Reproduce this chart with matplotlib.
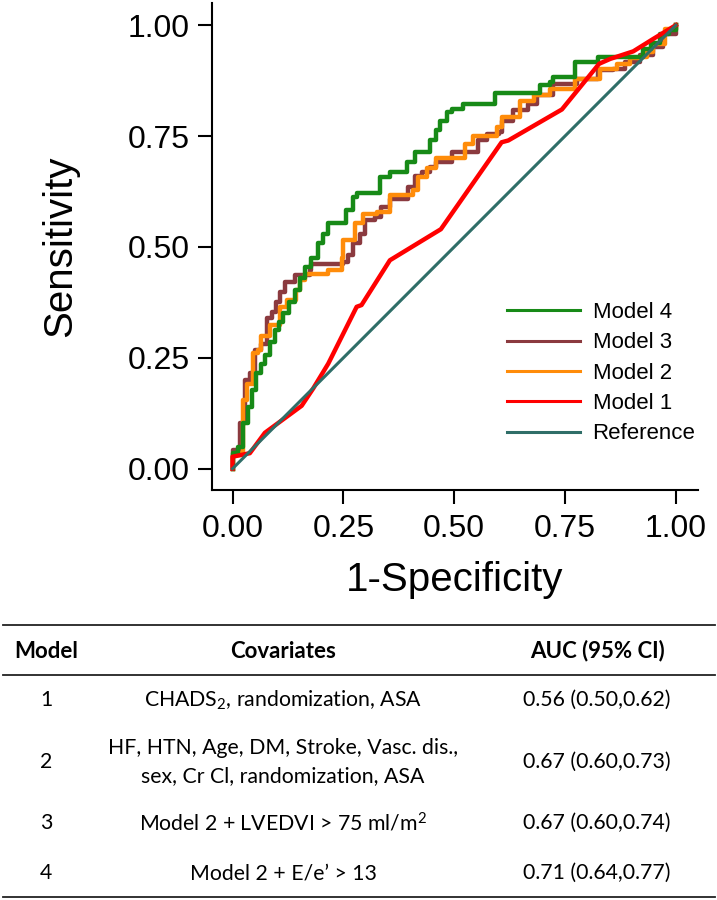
import matplotlib
matplotlib.use('Agg')
import matplotlib.pyplot as plt
from matplotlib.lines import Line2D

plt.rcParams['font.family'] = ['Liberation Sans', 'DejaVu Sans']
plt.rcParams['mathtext.default'] = 'regular'

# --- ROC curve data ---
# Model 1: piecewise linear
m1_x = [0, 0, 0.039, 0.073, 0.107, 0.156, 0.182, 0.216, 0.28, 0.291, 0.355, 0.47,
        0.607, 0.622, 0.743, 0.827, 0.852, 0.904, 0.949, 1.0]
m1_y = [0, 0.027, 0.035, 0.081, 0.106, 0.142, 0.181, 0.237, 0.365, 0.369, 0.47, 0.54,
        0.736, 0.740, 0.81, 0.913, 0.924, 0.941, 0.969, 1.0]

# Model 2: step curve (x where the step happens, y after the step)
m2_x = [0, 0, 0.016, 0.024, 0.032, 0.047, 0.058, 0.065, 0.084, 0.107, 0.122, 0.144,
        0.152, 0.163, 0.216, 0.246, 0.25, 0.276, 0.295, 0.325, 0.355, 0.408, 0.419,
        0.438, 0.46, 0.524, 0.543, 0.596, 0.607, 0.648, 0.679, 0.716, 0.773, 0.829,
        0.867, 0.897, 0.919, 0.934, 0.949, 0.976, 1.0]
m2_y = [0, 0.031, 0.035, 0.155, 0.192, 0.26, 0.267, 0.30, 0.324, 0.365, 0.38, 0.402,
        0.425, 0.44, 0.448, 0.474, 0.515, 0.553, 0.575, 0.579, 0.616, 0.628, 0.658,
        0.677, 0.70, 0.733, 0.75, 0.77, 0.793, 0.83, 0.842, 0.857, 0.879, 0.902,
        0.912, 0.925, 0.928, 0.939, 0.958, 0.992, 1.0]

# Model 3
m3_x = [0, 0, 0.016, 0.028, 0.039, 0.05, 0.065, 0.077, 0.088, 0.099, 0.107, 0.118,
        0.141, 0.174, 0.178, 0.25, 0.261, 0.272, 0.287, 0.299, 0.321, 0.336, 0.355,
        0.396, 0.411, 0.427, 0.445, 0.46, 0.494, 0.554, 0.573, 0.6, 0.607, 0.633,
        0.667, 0.686, 0.724, 0.776, 0.825, 0.859, 0.886, 0.919, 0.949, 0.972, 1.0]
m3_y = [0, 0.042, 0.102, 0.2, 0.215, 0.267, 0.282, 0.339, 0.354, 0.376, 0.399, 0.421,
        0.436, 0.448, 0.461, 0.466, 0.481, 0.508, 0.53, 0.56, 0.568, 0.59, 0.609,
        0.635, 0.661, 0.669, 0.68, 0.691, 0.714, 0.74, 0.755, 0.759, 0.785, 0.808,
        0.823, 0.842, 0.868, 0.879, 0.898, 0.902, 0.917, 0.932, 0.95, 0.981, 1.0]

# Model 4
m4_x = [0, 0, 0.013, 0.024, 0.035, 0.043, 0.054, 0.064, 0.073, 0.085, 0.095, 0.105,
        0.114, 0.128, 0.141, 0.152, 0.163, 0.178, 0.193, 0.205, 0.216, 0.257, 0.272,
        0.28, 0.332, 0.355, 0.393, 0.411, 0.445, 0.46, 0.468, 0.483, 0.494, 0.52,
        0.592, 0.694, 0.716, 0.724, 0.773, 0.825, 0.927, 0.945, 0.965, 0.985, 1.0]
m4_y = [0, 0.035, 0.05, 0.102, 0.14, 0.177, 0.215, 0.235, 0.256, 0.285, 0.312, 0.33,
        0.35, 0.375, 0.402, 0.43, 0.455, 0.474, 0.508, 0.53, 0.553, 0.583, 0.613,
        0.622, 0.658, 0.669, 0.691, 0.714, 0.74, 0.763, 0.785, 0.804, 0.812, 0.823,
        0.846, 0.864, 0.872, 0.884, 0.917, 0.928, 0.947, 0.96, 0.981, 0.99, 1.0]

ref_x = [0, 1]
ref_y = [0, 1]

# --- table data ---
tbl_header = ['Model', 'Covariates', 'AUC (95% CI)']
tbl_models = ['1', '2', '3', '4']
tbl_covariates = ['CHADS$_2$, randomization, ASA',
                  'HF, HTN, Age, DM, Stroke, Vasc. dis.,\nsex, Cr Cl, randomization, ASA',
                  'Model 2 + LVEDVI > 75 ml/m$^2$',
                  'Model 2 + E/e\u2019 > 13']
tbl_auc = ['0.56 (0.50,0.62)', '0.67 (0.60,0.73)', '0.67 (0.60,0.74)', '0.71 (0.64,0.77)']

W, H = 717, 900
fig = plt.figure(figsize=(W / 100, H / 100), dpi=100)


def fx(px):
    return px / W


def fy(py):
    return 1 - py / H


ax = fig.add_axes([fx(211.7), fy(490), fx(698) - fx(211.7), fy(3) - fy(490)])

c_ref = '#2f6e68'
ax.plot(m3_x, m3_y, drawstyle='steps-post', color='#8b3a3f', lw=3.2, label='Model 3')
ax.plot(m2_x, m2_y, drawstyle='steps-post', color='#ff8c0a', lw=3.2, label='Model 2')
ax.plot(m4_x, m4_y, drawstyle='steps-post', color='#178a17', lw=3.2, label='Model 4')
ax.plot(m1_x, m1_y, color='#ff0000', lw=3.2, label='Model 1')
ax.plot(ref_x, ref_y, color=c_ref, lw=2.2, label='Reference')

ax.set_xlim(-0.047, 1.05)
ax.set_ylim(-0.048, 1.05)
ticks = [0, 0.25, 0.5, 0.75, 1.0]
ax.set_xticks(ticks)
ax.set_yticks(ticks)
ax.set_xticklabels([f'{t:.2f}' for t in ticks])
ax.set_yticklabels([f'{t:.2f}' for t in ticks])
for s in ['top', 'right']:
    ax.spines[s].set_visible(False)
for s in ['left', 'bottom']:
    ax.spines[s].set_linewidth(1.5)
ax.tick_params(axis='both', length=10, width=1.5, labelsize=23)
ax.tick_params(axis='x', pad=7)
ax.tick_params(axis='y', pad=6)

ax.set_xlabel('1-Specificity', fontsize=29)
ax.xaxis.set_label_coords(0.5, -0.145)
ax.set_ylabel('Sensitivity', fontsize=29)
ax.yaxis.set_label_coords(-0.272, 0.5)

# legend in the order of the figure
handles, labels = ax.get_legend_handles_labels()
order = ['Model 4', 'Model 3', 'Model 2', 'Model 1', 'Reference']
hmap = dict(zip(labels, handles))
leg_handles = [Line2D([0], [0], color=hmap[k].get_color(), lw=2.2) for k in order]
ax.legend(leg_handles, order, loc='upper left', bbox_to_anchor=(fx(507), fy(302)),
          bbox_transform=fig.transFigure, frameon=False, fontsize=16,
          handlelength=3.3, handletextpad=0.55, labelspacing=0.42, borderpad=0,
          borderaxespad=0)

# --- table below the plot ---
tfont = ['Lato', 'DejaVu Sans']
tsize = 15.3
for py in [625, 675, 897]:
    fig.add_artist(Line2D([fx(3), fx(715)], [fy(py), fy(py)], color='#222222', lw=1.3))

col_x = [46, 283, 597]
for cx, txt in zip(col_x, tbl_header):
    fig.text(fx(cx), fy(651), txt, ha='center', va='center', fontsize=16,
             fontweight='bold', family=tfont)

row_y = [700, 762, 823, 873]
for ry, m, cov, auc in zip(row_y, tbl_models, tbl_covariates, tbl_auc):
    fig.text(fx(col_x[0]), fy(ry), m, ha='center', va='center', fontsize=tsize, family=tfont)
    fig.text(fx(col_x[1]), fy(ry), cov, ha='center', va='center', fontsize=tsize,
             family=tfont, linespacing=1.5)
    fig.text(fx(col_x[2]), fy(ry), auc, ha='center', va='center', fontsize=tsize, family=tfont)

fig.savefig('out.png', dpi=100)
